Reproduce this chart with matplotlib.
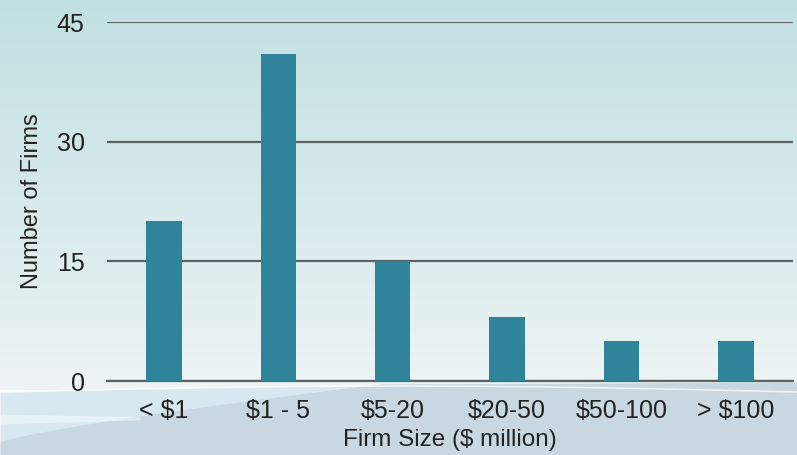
import numpy as np
import matplotlib.pyplot as plt
from matplotlib.colors import LinearSegmentedColormap

categories = ['< $1', '$1 - 5', '$5-20', '$20-50', '$50-100', '> $100']
firms = [20, 41, 15, 8, 5, 5]
yticks = [0, 15, 30, 45]

plt.rcParams['font.family'] = ['Liberation Sans', 'DejaVu Sans']

fig = plt.figure(figsize=(7.97, 4.55), dpi=100)

# background: soft teal gradient with a wave at the bottom
bg = fig.add_axes([0, 0, 1, 1], zorder=-10)
bg.set_xlim(0, 797)
bg.set_ylim(455, 0)
bg.axis('off')
cmap = LinearSegmentedColormap.from_list('bg', ['#c2e0e2', '#d6e9eb', '#eef4f5'])
grad = np.linspace(0, 1, 256).reshape(-1, 1)
bg.imshow(grad, extent=[0, 797, 390, 0], cmap=cmap, aspect='auto')
xs = np.linspace(0, 797, 200)
top_edge = 392 - 6 * np.sin(xs / 797 * np.pi)
bg.fill_between(xs, top_edge, 455, color='#d8e8ef', lw=0)
bg.plot(xs, top_edge, color='white', lw=1.2, alpha=0.7)
dark_edge = np.where(xs < 380, 442 - (xs / 380) ** 0.8 * 58, 384 - (xs - 380) / 417 * 2)
bg.fill_between(xs, dark_edge, 455, color='#c9d8e0', lw=0)
streak = np.linspace(0, 140, 50)
bg.fill_between(streak, 414 + streak * 0.02, 424 - streak * 0.03, color='white', alpha=0.45, lw=0)

ax = fig.add_axes([0.134, 0.1626, 0.861, 0.789])
ax.patch.set_alpha(0)
x = np.arange(len(categories))
ax.bar(x, firms, width=0.31, color='#2f839b', zorder=3)

ax.set_xlim(-0.5, len(categories) - 0.5)
ax.set_ylim(0, 45)
ax.set_yticks(yticks)
ax.set_xticks(x)
ax.set_xticklabels(categories)
ax.tick_params(axis='x', length=0, pad=13, labelsize=18, colors='#222222')
ax.tick_params(axis='y', length=0, pad=16, labelsize=18, colors='#222222')
for s in ['top', 'right', 'left']:
    ax.spines[s].set_visible(False)
ax.spines['bottom'].set_color('#5a6464')
ax.spines['bottom'].set_linewidth(1.6)
ax.grid(axis='y', color='#5a6464', linewidth=1.6, zorder=0)

ax.set_xlabel('Firm Size ($ million)', fontsize=17.5, color='#222222', labelpad=4)
ax.set_ylabel('Number of Firms', fontsize=17, color='#222222', labelpad=10)

fig.savefig('out.png', dpi=100)
